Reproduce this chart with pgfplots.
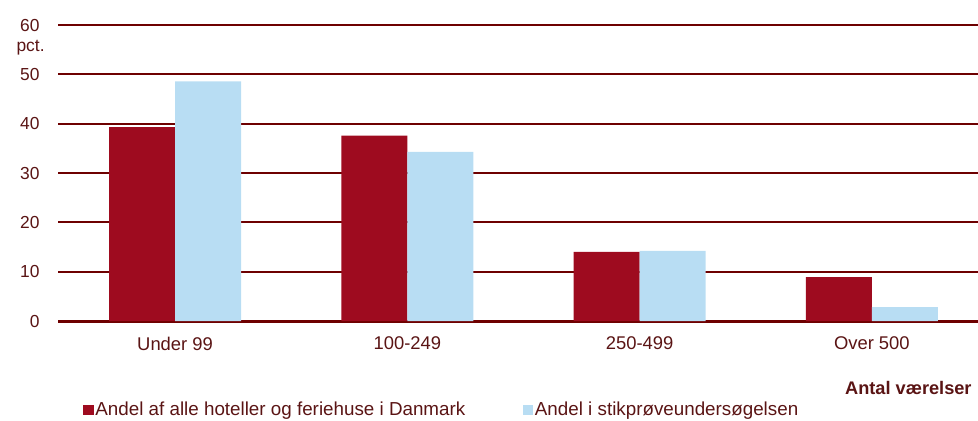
\documentclass[border=0pt]{standalone}
\usepackage{pgfplots}
\pgfplotsset{compat=1.18}
\usepackage{fontspec}
\setmainfont{Liberation Sans}
\definecolor{barred}{HTML}{9E0B1F}
\definecolor{barblue}{HTML}{B8DDF3}
\definecolor{gridred}{HTML}{6E0000}
\definecolor{txtred}{HTML}{5A1414}
\begin{document}
\begin{tikzpicture}[x=1pt,y=1pt]
\useasboundingbox (-29,-49.5) rectangle (460,160.5);
\begin{axis}[
  at={(0,0)}, anchor=south west,
  scale only axis,
  width=460pt, height=148pt,
  xmin=-0.504, xmax=3.457,
  ymin=0, ymax=60,
  ytick={0,10,...,60},
  xtick=data,
  xticklabels={Under 99,100-249,250-499,Over 500},
  ybar=0pt, bar width=33pt,
  axis x line*=bottom,
  axis y line*=left,
  y axis line style={draw=none},
  x axis line style={gridred, line width=1.5pt, -},
  ymajorgrids,
  grid style={gridred, line width=1pt},
  major tick length=0pt,
  tick style={draw=none},
  yticklabel style={text=txtred, anchor=east, xshift=-5.7pt, font=\fontsize{8.7pt}{10pt}\selectfont},
  xticklabel style={text=txtred, yshift=-4.5pt, font=\fontsize{9.2pt}{10pt}\selectfont},
  /pgf/number format/assume math mode=true,
  clip=false,
  legend style={at={(rel axis cs:0,0)}, anchor=west, xshift=12.5pt, yshift=-44.5pt,
    draw=none, fill=none, legend columns=2,
    /tikz/every even column/.append style={column sep=28pt},
    font=\fontsize{9.4pt}{10.5pt}\selectfont, text=txtred,
    inner sep=0pt, nodes={inner sep=0.8pt}},
  legend image code/.code={\fill[#1] (0pt,-2.6pt) rectangle (5.2pt,2.6pt);},
]
\addplot[fill=barred, draw=none] coordinates {(0,39.3) (1,37.6) (2,14.0) (3,8.9)};
\addplot[fill=barblue, draw=none] coordinates {(0,48.6) (1,34.3) (2,14.2) (3,2.8)};
\legend{Andel af alle hoteller og feriehuse i Danmark, Andel i stikprøveundersøgelsen}
\node[anchor=east, text=txtred, font=\fontsize{8.7pt}{10pt}\selectfont, inner sep=0pt] at ([xshift=-6.5pt]rel axis cs:0,0.925) {pct.};
\node[anchor=east, text=txtred, font=\bfseries\fontsize{9.1pt}{10pt}\selectfont, inner sep=0pt] at ([xshift=-3pt, yshift=-33.5pt]rel axis cs:1,0) {Antal værelser};
\end{axis}
\end{tikzpicture}
\end{document}
